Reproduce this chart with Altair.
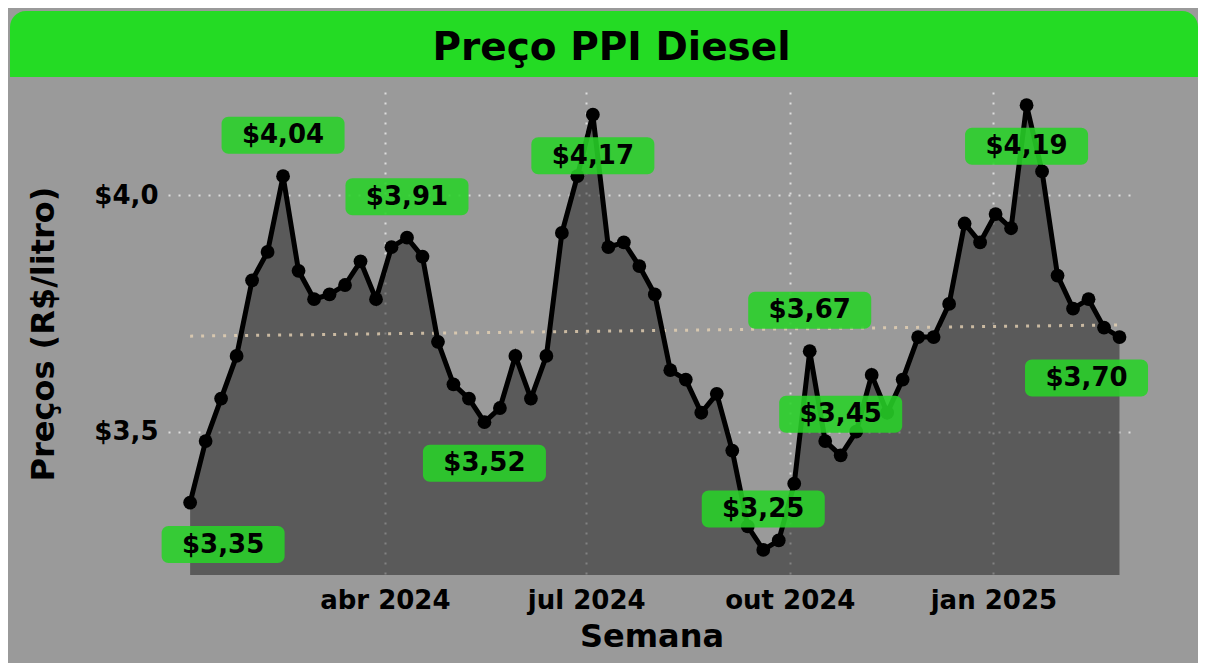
import altair as alt
import pandas as pd
import numpy as np

# ---------------- data ----------------
weeks = pd.date_range("2024-01-04", periods=61, freq="7D")
prices = [
    3.35, 3.48, 3.57, 3.66, 3.82, 3.88, 4.04, 3.84, 3.78, 3.79,
    3.81, 3.86, 3.78, 3.89, 3.91, 3.87, 3.69, 3.60, 3.57, 3.52,
    3.55, 3.66, 3.57, 3.66, 3.92, 4.04, 4.17, 3.89, 3.90, 3.85,
    3.79, 3.63, 3.61, 3.54, 3.58, 3.46, 3.30, 3.25, 3.27, 3.39,
    3.67, 3.48, 3.45, 3.50, 3.62, 3.54, 3.61, 3.70, 3.70, 3.77,
    3.94, 3.90, 3.96, 3.93, 4.19, 4.05, 3.83, 3.76, 3.78, 3.72,
    3.70,
]
label_idx = [0, 6, 14, 19, 26, 37, 40, 42, 54, 60]
label_side = ["br", "a", "a", "b", "b", "a", "a", "a", "b", "bl"]

month_names = ["jan", "fev", "mar", "abr", "mai", "jun",
               "jul", "ago", "set", "out", "nov", "dez"]

# ---------------- styles ----------------
FONT = "DejaVu Sans"
BG = "#9a9a9a"
GREEN_BAR = "#24db24"
LABEL_FILL = "#28d128"
offsets = {"a": (0, -41), "b": (0, 41), "br": (33, 42), "bl": (-33, 41)}
W, H = 967, 483

df = pd.DataFrame({"date": weeks.strftime("%Y-%m-%d"), "price": prices})

# linear trend
days = (weeks - weeks[0]).days.values.astype(float)
slope, icpt = np.polyfit(days, np.array(prices), 1)
trend = pd.DataFrame({
    "date": [weeks[0].strftime("%Y-%m-%d"), weeks[-1].strftime("%Y-%m-%d")],
    "price": [icpt, icpt + slope * days[-1]],
})

lab = pd.DataFrame({
    "date": [weeks[i].strftime("%Y-%m-%d") for i in label_idx],
    "price": [prices[i] for i in label_idx],
    "text": ["$" + f"{prices[i]:.2f}".replace(".", ",") for i in label_idx],
    "side": label_side,
})

x_scale = alt.Scale(
    type="utc",
    domain=[alt.DateTime(year=2023, month=12, date=25, utc=True),
            alt.DateTime(year=2025, month=3, date=6, utc=True)],
)
y_scale = alt.Scale(domain=[3.197, 4.218], zero=False, nice=False)

x_axis = alt.Axis(
    values=[alt.DateTime(year=2024, month=4, date=1, utc=True),
            alt.DateTime(year=2024, month=7, date=1, utc=True),
            alt.DateTime(year=2024, month=10, date=1, utc=True),
            alt.DateTime(year=2025, month=1, date=1, utc=True)],
    labelExpr="['" + "','".join(month_names) + "'][utcmonth(datum.value)] + ' ' + utcyear(datum.value)",
    title="Semana",
    titleY=61, titleBaseline="middle",
    labelPadding=12,
)
y_axis = alt.Axis(
    values=[3.5, 4.0],
    labelExpr="'$' + replace(format(datum.value, '.1f'), '.', ',')",
    title="Preços (R$/litro)",
    titleX=-125, titleY=H / 2, titleAngle=270,
    titleAlign="center", titleBaseline="middle",
    labelPadding=10,
)

X = alt.X("date:T", scale=x_scale, axis=x_axis)
Y = alt.Y("price:Q", scale=y_scale, axis=y_axis)

base = alt.Chart(df)

area = base.mark_area(color="black", opacity=0.41, clip=True).encode(x=X, y=Y)
line = base.mark_line(color="black", strokeWidth=5).encode(x=X, y=Y)
pts = base.mark_circle(color="black", size=190, opacity=1).encode(x=X, y=Y)

trend_line = alt.Chart(trend).mark_line(
    color="#e6d2b4", strokeWidth=3, strokeDash=[3, 8], opacity=0.8
).encode(x=X, y=Y)

label_layers = []
for side, (dx, dy) in offsets.items():
    sub = alt.Chart(lab).transform_filter(alt.datum.side == side)
    box = sub.mark_rect(
        color=LABEL_FILL, opacity=0.88, cornerRadius=7,
        xOffset=dx - 61.5, x2Offset=dx + 61.5,
        yOffset=dy - 18.5, y2Offset=dy + 18.5,
    ).encode(x=X, x2="date:T", y=Y, y2="price:Q")
    txt = sub.mark_text(
        dx=dx, dy=dy, fontSize=26, fontWeight="bold", font=FONT,
        color="black", align="center", baseline="middle",
    ).encode(x=X, y=Y, text="text:N")
    label_layers += [box, txt]

dummy = pd.DataFrame({"k": [0]})
title_bar = alt.Chart(dummy).mark_rect(
    color=GREEN_BAR, cornerRadiusTopLeft=16, cornerRadiusTopRight=16
).encode(x=alt.value(-158), x2=alt.value(1030), y=alt.value(-81), y2=alt.value(-15))
title_txt = alt.Chart(dummy).mark_text(
    text="Preço PPI Diesel", fontSize=39, fontWeight="bold", font=FONT,
    color="black", align="center", baseline="alphabetic",
).encode(x=alt.value(443.5), y=alt.value(-32))

chart = alt.layer(
    area, trend_line, line, pts, *label_layers, title_bar, title_txt
).properties(
    width=W, height=H,
    autosize=alt.AutoSizeParams(type="none"),
    padding={"left": 160, "top": 84, "right": 63, "bottom": 88},
    background=BG,
).configure_view(
    stroke=None
).configure_axis(
    labelFont=FONT, titleFont=FONT,
    labelFontSize=26, labelFontWeight="bold", labelColor="black",
    titleFontSize=32, titleFontWeight="bold", titleColor="black",
    ticks=False, domain=False,
    grid=True, gridColor="#e4e4e4", gridDash=[2, 8], gridWidth=2, gridOpacity=0.9,
)

chart.save("out.html", embed_options={"renderer": "svg", "actions": False})
